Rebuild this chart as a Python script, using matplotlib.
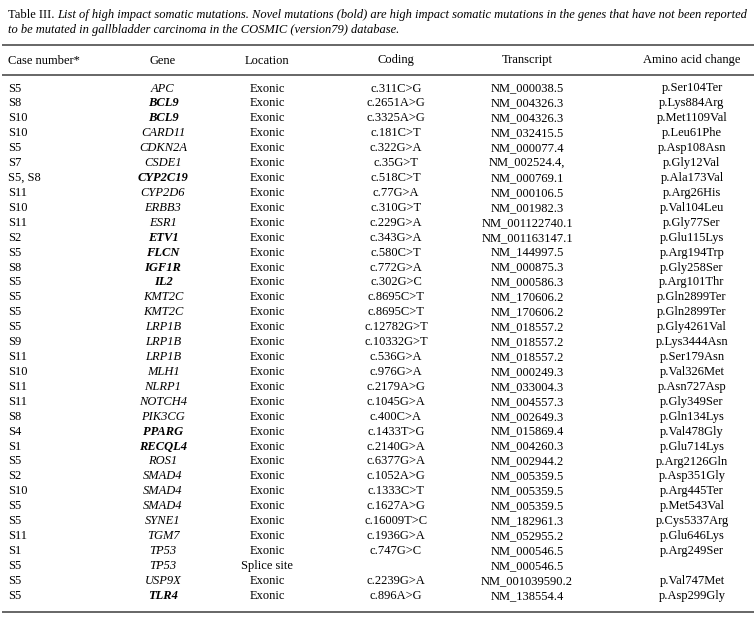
import matplotlib
matplotlib.use('Agg')
import matplotlib.pyplot as plt

# ============================================
# data
# ============================================
headers = ['Case number*', 'Gene', 'Location', 'Coding', 'Transcript', 'Amino acid change']

cases = ['S5', 'S8', 'S10', 'S10', 'S5', 'S7', 'S5, S8', 'S11', 'S10', 'S11', 'S2', 'S5',
         'S8', 'S5', 'S5', 'S5', 'S5', 'S9', 'S11', 'S10', 'S11', 'S11', 'S8', 'S4', 'S1',
         'S5', 'S2', 'S10', 'S5', 'S5', 'S11', 'S1', 'S5', 'S5', 'S5']
genes = ['APC', 'BCL9', 'BCL9', 'CARD11', 'CDKN2A', 'CSDE1', 'CYP2C19', 'CYP2D6', 'ERBB3',
         'ESR1', 'ETV1', 'FLCN', 'IGF1R', 'IL2', 'KMT2C', 'KMT2C', 'LRP1B', 'LRP1B', 'LRP1B',
         'MLH1', 'NLRP1', 'NOTCH4', 'PIK3CG', 'PPARG', 'RECQL4', 'ROS1', 'SMAD4', 'SMAD4',
         'SMAD4', 'SYNE1', 'TGM7', 'TP53', 'TP53', 'USP9X', 'TLR4']
novel = {'BCL9', 'CYP2C19', 'ETV1', 'FLCN', 'IGF1R', 'IL2', 'PPARG', 'RECQL4', 'TLR4'}
locations = ['Exonic'] * 32 + ['Splice site', 'Exonic', 'Exonic']
coding = ['c.311C>G', 'c.2651A>G', 'c.3325A>G', 'c.181C>T', 'c.322G>A', 'c.35G>T',
          'c.518C>T', 'c.77G>A', 'c.310G>T', 'c.229G>A', 'c.343G>A', 'c.580C>T',
          'c.772G>A', 'c.302G>C', 'c.8695C>T', 'c.8695C>T', 'c.12782G>T', 'c.10332G>T',
          'c.536G>A', 'c.976G>A', 'c.2179A>G', 'c.1045G>A', 'c.400C>A', 'c.1433T>G',
          'c.2140G>A', 'c.6377G>A', 'c.1052A>G', 'c.1333C>T', 'c.1627A>G', 'c.16009T>C',
          'c.1936G>A', 'c.747G>C', '', 'c.2239G>A', 'c.896A>G']
transcripts = ['NM_000038.5', 'NM_004326.3', 'NM_004326.3', 'NM_032415.5', 'NM_000077.4',
               'NM_002524.4,', 'NM_000769.1', 'NM_000106.5', 'NM_001982.3', 'NM_001122740.1',
               'NM_001163147.1', 'NM_144997.5', 'NM_000875.3', 'NM_000586.3', 'NM_170606.2',
               'NM_170606.2', 'NM_018557.2', 'NM_018557.2', 'NM_018557.2', 'NM_000249.3',
               'NM_033004.3', 'NM_004557.3', 'NM_002649.3', 'NM_015869.4', 'NM_004260.3',
               'NM_002944.2', 'NM_005359.5', 'NM_005359.5', 'NM_005359.5', 'NM_182961.3',
               'NM_052955.2', 'NM_000546.5', 'NM_000546.5', 'NM_001039590.2', 'NM_138554.4']
amino = ['p.Ser104Ter', 'p.Lys884Arg', 'p.Met1109Val', 'p.Leu61Phe', 'p.Asp108Asn',
         'p.Gly12Val', 'p.Ala173Val', 'p.Arg26His', 'p.Val104Leu', 'p.Gly77Ser',
         'p.Glu115Lys', 'p.Arg194Trp', 'p.Gly258Ser', 'p.Arg101Thr', 'p.Gln2899Ter',
         'p.Gln2899Ter', 'p.Gly4261Val', 'p.Lys3444Asn', 'p.Ser179Asn', 'p.Val326Met',
         'p.Asn727Asp', 'p.Gly349Ser', 'p.Gln134Lys', 'p.Val478Gly', 'p.Glu714Lys',
         'p.Arg2126Gln', 'p.Asp351Gly', 'p.Arg445Ter', 'p.Met543Val', 'p.Cys5337Arg',
         'p.Glu646Lys', 'p.Arg249Ser', '', 'p.Val747Met', 'p.Asp299Gly']

title_lead = 'Table III. '
title_1 = ('List of high impact somatic mutations. Novel mutations (bold) are high impact '
           'somatic mutations in the genes that have not been reported')
title_2 = 'to be mutated in gallbladder carcinoma in the COSMIC (version79) database.'

# ============================================
# layout (pixels, y measured at text baseline)
# ============================================
W, H = 756, 627
FONT = 'Liberation Serif'
FS = 9.0
col_x = [8, 163, 267, 396, 527, 692]
col_ha = ['left', 'center', 'center', 'center', 'center', 'center']
y_first, dy = 91.5, 14.92

fig = plt.figure(figsize=(W / 100, H / 100), dpi=100)
ax = fig.add_axes([0, 0, 1, 1])
ax.set_xlim(0, W)
ax.set_ylim(H, 0)
ax.axis('off')

# title: upright lead, italic rest
t0 = ax.text(8, 18, title_lead, fontsize=FS, family=FONT, va='baseline', ha='left')
fig.canvas.draw()
x_after = ax.transData.inverted().transform(t0.get_window_extent().p1)[0]
ax.text(x_after, 18, title_1, fontsize=FS, family=FONT, style='italic', va='baseline', ha='left')
ax.text(8, 33.5, title_2, fontsize=FS, family=FONT, style='italic', va='baseline', ha='left')

# rules
rule_col = '#5a5a5a'
for y in (45, 74.5, 612):
    ax.plot([2, 754], [y, y], color=rule_col, lw=1.3, solid_capstyle='butt')

# header
for x, ha, h in zip(col_x, col_ha, headers):
    ax.text(x, 63.5, h, fontsize=FS, family=FONT, va='baseline', ha=ha)

# rows
for i in range(len(genes)):
    y = y_first + i * dy
    row = [cases[i], genes[i], locations[i], coding[i], transcripts[i], amino[i]]
    for j, (x, ha, val) in enumerate(zip(col_x, col_ha, row)):
        kw = {}
        if j == 1:
            kw['style'] = 'italic'
            if val in novel:
                kw['weight'] = 'bold'
        ax.text(x, y, val, fontsize=FS, family=FONT, va='baseline', ha=ha, **kw)

plt.savefig('out.png', dpi=100)
